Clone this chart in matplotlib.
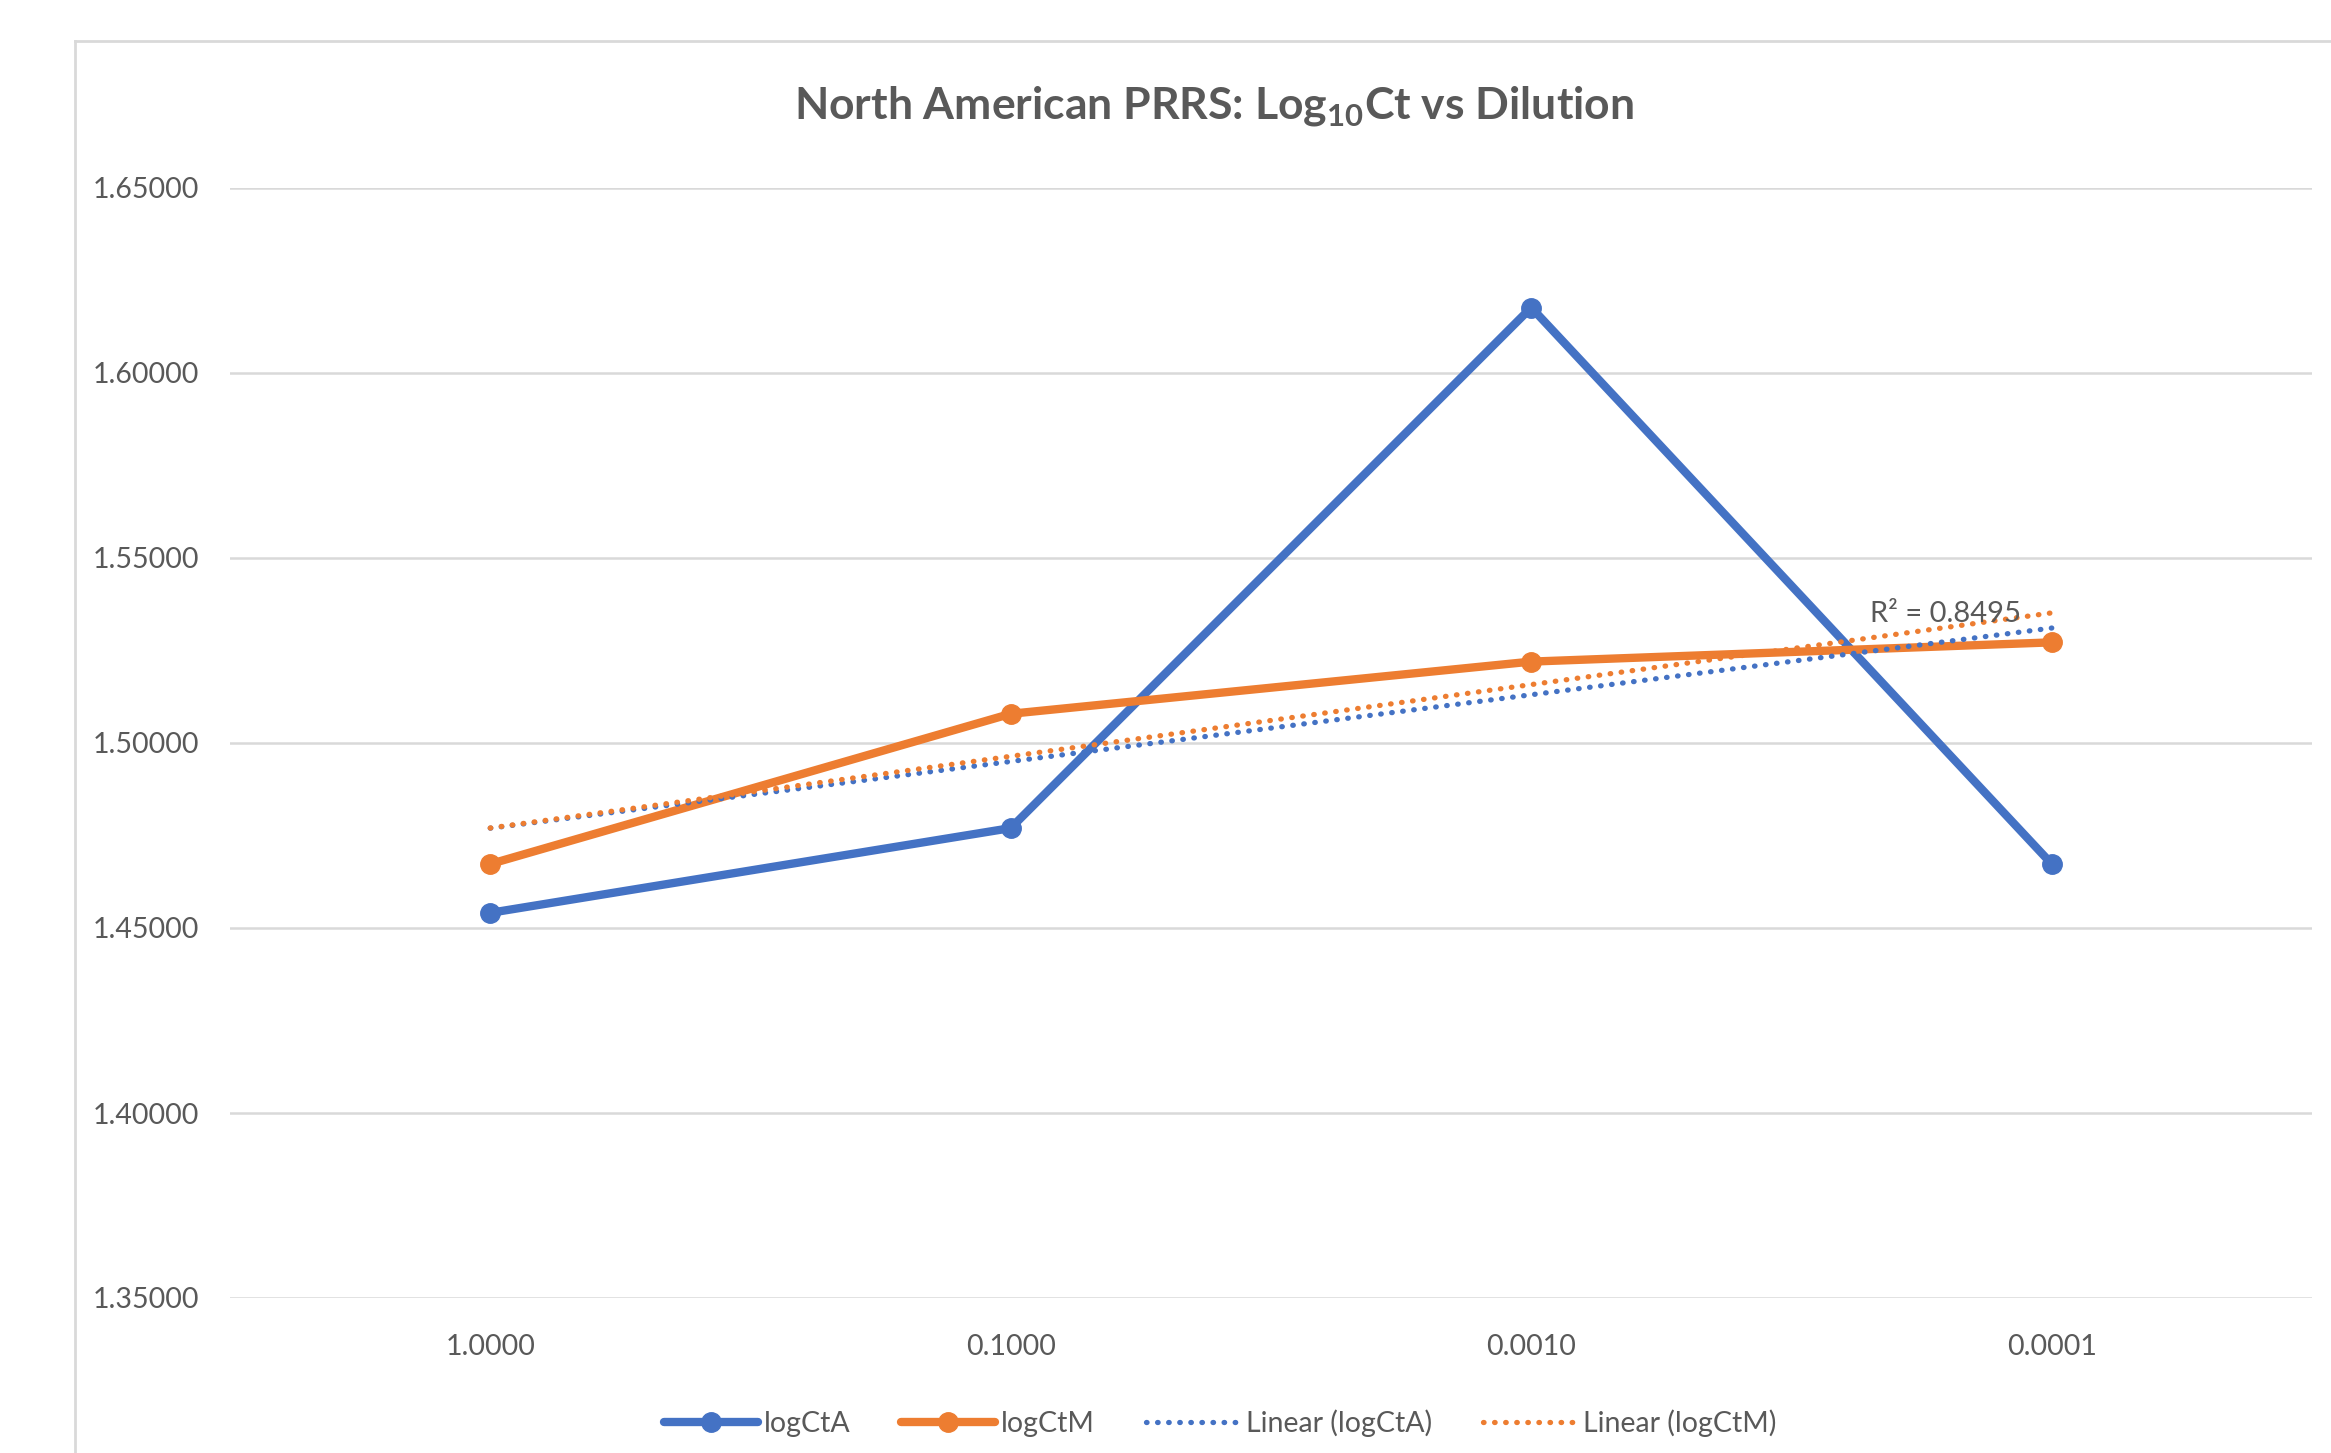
import matplotlib
matplotlib.use("Agg")
import matplotlib.pyplot as plt
from matplotlib.lines import Line2D
import numpy as np

dilutions = ["1.0000", "0.1000", "0.0010", "0.0001"]
logCtA = [1.4541, 1.4770, 1.6177, 1.4673]
logCtM = [1.4673, 1.5079, 1.5220, 1.5272]
r2_label = "R\u00b2 = 0.8495"
yticks = [1.35, 1.40, 1.45, 1.50, 1.55, 1.60, 1.65]

BLUE = "#4472C4"
ORANGE = "#ED7D31"
TEXT = "#595959"
GRID = "#D9D9D9"

plt.rcParams["font.family"] = ["Lato", "DejaVu Sans"]
plt.rcParams["mathtext.fontset"] = "custom"
plt.rcParams["mathtext.rm"] = "Lato"
plt.rcParams["mathtext.bf"] = "Lato:bold"

W, H = 2331, 1453
fig = plt.figure(figsize=(W / 100, H / 100), dpi=100)
ax = fig.add_axes([230 / W, 1 - 1298 / H, (2312 - 230) / W, (1298 - 188) / H])

# chart border (cropped on the right and bottom)
fig.add_artist(Line2D([75 / W, 75 / W], [0, 1 - 41 / H], color=GRID, lw=2))
fig.add_artist(Line2D([75 / W, 1], [1 - 41 / H, 1 - 41 / H], color=GRID, lw=2))

x = np.arange(1, len(dilutions) + 1)

ax.plot(x, logCtA, color=BLUE, lw=6, marker="o", ms=14, label="logCtA",
        solid_capstyle="round", zorder=3)
ax.plot(x, logCtM, color=ORANGE, lw=6, marker="o", ms=14, label="logCtM",
        solid_capstyle="round", zorder=4)

# linear trendlines as Excel draws them
for series, color, name in [(logCtA, BLUE, "Linear (logCtA)"),
                            (logCtM, ORANGE, "Linear (logCtM)")]:
    slope, icpt = np.polyfit(x, series, 1)
    ax.plot(x, slope * x + icpt, color=color, lw=3.8, ls=(0, (0.1, 2.0)),
            dash_capstyle="round", label=name, zorder=5)

ax.text(0.824, 0.616, r2_label, transform=ax.transAxes, ha="center",
        va="center", fontsize=21, color=TEXT, zorder=6)

ax.set_xlim(0.5, len(dilutions) + 0.5)
ax.set_ylim(1.35, 1.65)
ax.set_yticks(yticks)
ax.set_yticklabels(["%.5f" % v for v in yticks])
ax.set_xticks(x)
ax.set_xticklabels(dilutions)
ax.tick_params(axis="both", length=0, labelsize=20.5, labelcolor=TEXT)
ax.tick_params(axis="y", pad=22)
ax.tick_params(axis="x", pad=26)
ax.grid(axis="y", color=GRID, lw=1.8)
ax.set_axisbelow(True)
for s in ax.spines.values():
    s.set_visible(False)

fig.text(1214 / W, 1 - 106 / H,
         r"North American PRRS: Log$_{\mathbf{10}}$Ct vs Dilution",
         ha="center", va="center", fontsize=32, fontweight="bold", color=TEXT)

fig.legend(loc="center", bbox_to_anchor=(1220 / W, 1 - 1423 / H), ncol=4,
           frameon=False, fontsize=20.5, labelcolor=TEXT, handlelength=3.3,
           handletextpad=0.2, columnspacing=1.8, numpoints=1)

fig.savefig("out.png", dpi=100, facecolor="white")
